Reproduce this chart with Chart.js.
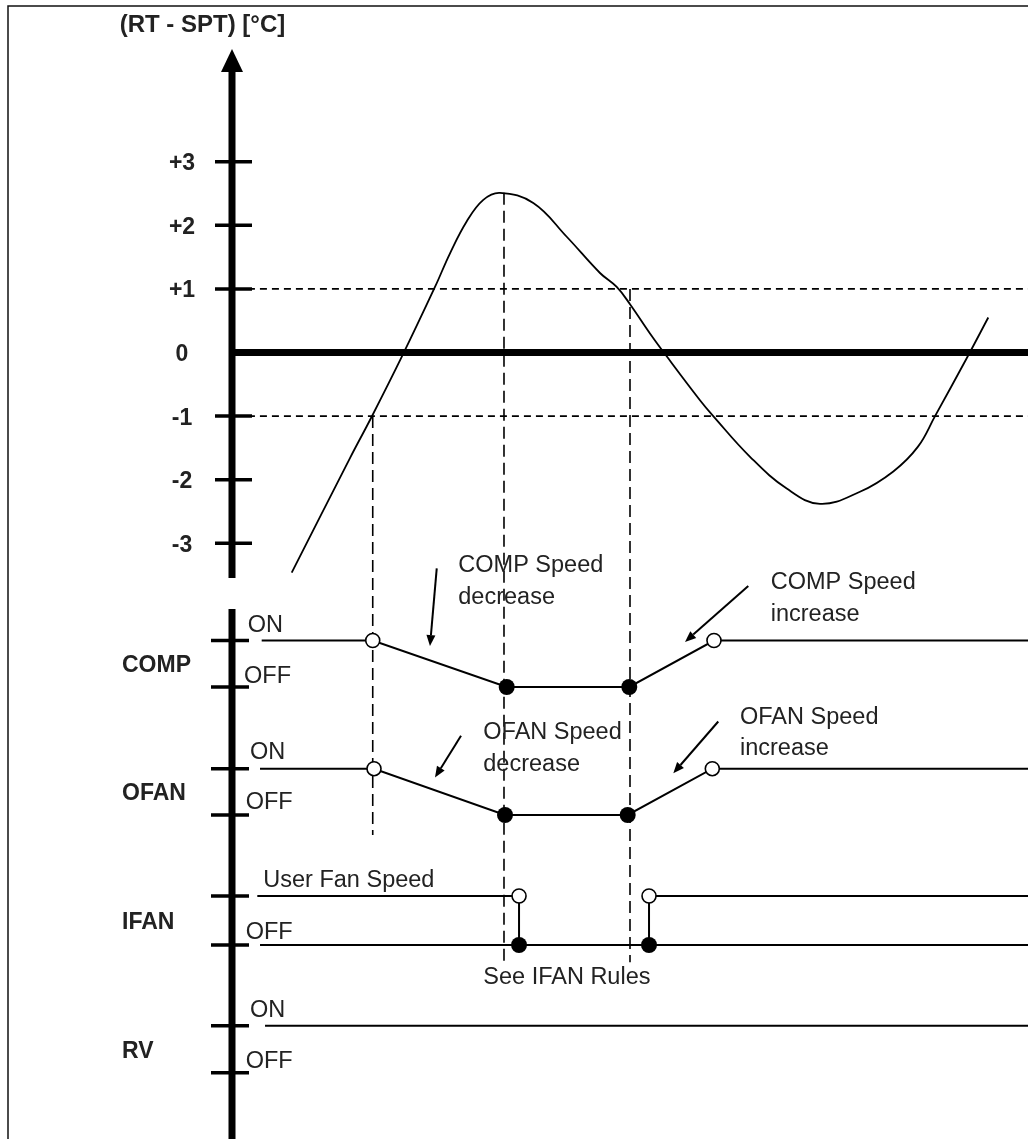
<!DOCTYPE html>
<html>
<head>
<meta charset="utf-8">
<title>RT - SPT control timing</title>
<script src="https://cdn.jsdelivr.net/npm/chart.js@4.4.1/dist/chart.umd.min.js"></script>
<style>
  html, body { margin: 0; padding: 0; background: #fff; }
  canvas { display: block; }
</style>
</head>
<body>
<canvas id="chart" width="1028" height="1139"></canvas>
<script>
// time runs 0..100 from the vertical axis to the right edge
const curveT    = [7.50, 14.82, 17.55, 21.32, 25.50, 27.39, 29.48, 31.57, 33.67, 37.85, 42.05, 46.23, 48.33, 50.00, 52.51, 54.61, 58.79, 60.46, 65.08, 69.69, 73.87, 78.89, 83.08, 86.18, 88.32, 92.30, 95.01];
const curveTemp = [-3.46, -1.66, -1.01, -0.07, 1.03, 1.56, 2.06, 2.40, 2.51, 2.35, 1.82, 1.25, 1.03, 0.76, 0.30, -0.06, -0.75, -1.00, -1.64, -2.14, -2.38, -2.19, -1.87, -1.48, -1.00, -0.09, 0.55];

const tempTicks = [3, 2, 1, 0, -1, -2, -3];
const tempTickLabels = ['+3', '+2', '+1', '0', '-1', '-2', '-3'];
const bandLevels = [1, -1];

const rowNames  = ['COMP', 'OFAN', 'IFAN', 'RV'];
const rowAxes   = ['yComp', 'yOfan', 'yIfan', 'yRv'];
const onLabels  = ['ON', 'ON', 'User Fan Speed', 'ON'];
const onLabelT  = [1.97, 2.26, 3.93, 2.26];
const onLabelV  = [1.19, 1.20, 1.19, 1.19];
const offLabels = ['OFF', 'OFF', 'OFF', 'OFF'];
const offLabelT = [1.51, 1.72, 1.72, 1.72];
const offLabelV = [0.08, 0.13, 0.12, 0.11];

// 1 = ON, 0 = OFF
const compT      = [3.73, 17.68, 34.51, 49.91, 60.55, 100];
const compState  = [1, 1, 0, 0, 1, 1];
const compOpen   = [17.68, 60.55];
const compFilled = [34.51, 49.91];

const ofanT      = [3.52, 17.84, 34.30, 49.71, 60.34, 100];
const ofanState  = [1, 1, 0, 0, 1, 1];
const ofanOpen   = [17.84, 60.34];
const ofanFilled = [34.30, 49.71];

const ifanOnT     = [3.18, 36.06, 52.39, 100]; // two ON segments
const ifanOffT    = [3.52, 100];
const ifanSwitchT = [36.06, 52.39];

const rvOnT = [4.15, 100];

const guideT = [17.68, 34.17, 50.00];

// annotations: text start (t, level) and arrow (from t, level -> to t, level)
const notes = [
  { axis: 'yComp', t: 28.43, v: 2.47, lines: ['COMP Speed', 'decrease'], arrow: [25.72, 2.55, 24.87, 0.88] },
  { axis: 'yOfan', t: 31.57, v: 1.64, lines: ['OFAN Speed', 'decrease'], arrow: [28.77, 1.71, 25.50, 0.81] },
  { axis: 'yComp', t: 67.68, v: 2.10, lines: ['COMP Speed', 'increase'], arrow: [64.86, 2.17, 56.91, 0.97] },
  { axis: 'yOfan', t: 63.82, v: 1.97, lines: ['OFAN Speed', 'increase'], arrow: [61.09, 2.02, 55.44, 0.90] },
  { axis: 'yIfan', t: 31.57, v: -0.80, lines: ['See IFAN Rules'] }
];

// layout
const W = 1028, H = 1139;
const AXIS_PX = 232;
const TEMP_ZERO_PX = 352.5, TEMP_PX_PER_DEG = 63.6;
const ROW_PX = [[640.5, 687], [768.7, 815], [896, 945], [1025.7, 1072.7]]; // ON, OFF
const FONT = '"Liberation Sans", Arial, sans-serif';
const INK = '#222';

const scales = {
  x: { type: 'linear', display: false, min: 0, max: 100 },
  y: { type: 'linear', display: false,
       min: -(H - TEMP_ZERO_PX) / TEMP_PX_PER_DEG, max: TEMP_ZERO_PX / TEMP_PX_PER_DEG }
};
rowAxes.forEach((id, i) => {
  const [on, off] = ROW_PX[i];
  const u = off - on;
  scales[id] = { type: 'linear', display: false, min: -(H - off) / u, max: 1 + on / u };
});

const pts = (ts, ys) => ts.map((t, i) => ({ x: t, y: Array.isArray(ys) ? ys[i] : ys }));
function line(data, yAxisID, extra) {
  return Object.assign({ data, yAxisID, borderColor: '#000', borderWidth: 2, pointRadius: 0,
    fill: false, tension: 0, order: 2, clip: false }, extra || {});
}
function openDots(ts, yAxisID) {
  return line(pts(ts, 1), yAxisID, { showLine: false, pointRadius: 7, pointBackgroundColor: '#fff',
    pointBorderColor: '#000', pointBorderWidth: 1.6, order: 0 });
}
function filledDots(ts, yAxisID) {
  return line(pts(ts, 0), yAxisID, { showLine: false, pointRadius: 8, pointBackgroundColor: '#000',
    pointBorderColor: '#000', pointBorderWidth: 0, order: 0 });
}

const datasets = [
  line(pts(curveT, curveTemp), 'y', { tension: 0.4, borderWidth: 1.8 }),
  line([{ x: 0, y: 0 }, { x: 100, y: 0 }], 'y', { borderWidth: 7 }),
  ...bandLevels.map(v => line([{ x: 2, y: v }, { x: 100, y: v }], 'y', { borderWidth: 1.6, borderDash: [7, 5] })),
  line(pts(compT, compState), 'yComp'),
  line(pts(ofanT, ofanState), 'yOfan'),
  line(pts(ifanOnT.slice(0, 2), 1), 'yIfan'),
  line(pts(ifanOnT.slice(2, 4), 1), 'yIfan'),
  line(pts(ifanOffT, 0), 'yIfan'),
  ...ifanSwitchT.map(t => line([{ x: t, y: 1 }, { x: t, y: 0 }], 'yIfan')),
  line(pts(rvOnT, 1), 'yRv'),
  openDots(compOpen, 'yComp'), filledDots(compFilled, 'yComp'),
  openDots(ofanOpen, 'yOfan'), filledDots(ofanFilled, 'yOfan'),
  openDots(ifanSwitchT, 'yIfan'), filledDots(ifanSwitchT, 'yIfan')
];

const guides = [
  { t: guideT[0], from: ['y', -1],   to: ['yOfan', -0.43] },
  { t: guideT[1], from: ['y', 2.51], to: ['yIfan', -0.44] },
  { t: guideT[2], from: ['y', 1],    to: ['yIfan', -0.35] }
];

function arrow(ctx, x0, y0, x1, y1) {
  const a = Math.atan2(y1 - y0, x1 - x0), len = 11, hw = 4.5;
  const bx = x1 - len * Math.cos(a), by = y1 - len * Math.sin(a);
  ctx.beginPath(); ctx.moveTo(x0, y0); ctx.lineTo(bx, by); ctx.stroke();
  ctx.beginPath();
  ctx.moveTo(x1, y1);
  ctx.lineTo(bx + hw * Math.sin(a), by - hw * Math.cos(a));
  ctx.lineTo(bx - hw * Math.sin(a), by + hw * Math.cos(a));
  ctx.closePath(); ctx.fill();
}

const decor = {
  id: 'decor',
  beforeDraw(chart) {
    const ctx = chart.ctx;
    ctx.save();
    ctx.fillStyle = '#fff';
    ctx.fillRect(0, 0, W, H);
    ctx.strokeStyle = '#111';
    ctx.lineWidth = 1.5;
    ctx.beginPath(); ctx.moveTo(8, H); ctx.lineTo(8, 6); ctx.lineTo(W, 6); ctx.stroke();
    ctx.restore();
  },
  beforeDatasetsDraw(chart) {
    const ctx = chart.ctx, x = chart.scales.x;
    ctx.save();
    ctx.strokeStyle = '#000';
    ctx.lineWidth = 1.6;
    ctx.setLineDash([12, 6]);
    guides.forEach(g => {
      const px = x.getPixelForValue(g.t);
      ctx.beginPath();
      ctx.moveTo(px, chart.scales[g.from[0]].getPixelForValue(g.from[1]));
      ctx.lineTo(px, chart.scales[g.to[0]].getPixelForValue(g.to[1]));
      ctx.stroke();
    });
    ctx.restore();
  },
  afterDatasetsDraw(chart) {
    const ctx = chart.ctx, x = chart.scales.x, yT = chart.scales.y;
    const ax = x.getPixelForValue(0);
    ctx.save();
    ctx.fillStyle = '#000';
    ctx.strokeStyle = '#000';

    // vertical axis: upper part with arrow, lower part for the signal rows
    ctx.lineWidth = 7;
    ctx.beginPath();
    ctx.moveTo(ax, yT.getPixelForValue(-3.546));
    ctx.lineTo(ax, yT.getPixelForValue(4.45));
    ctx.stroke();
    ctx.beginPath();
    ctx.moveTo(ax, yT.getPixelForValue(4.772));
    ctx.lineTo(ax - 11, yT.getPixelForValue(4.41));
    ctx.lineTo(ax + 11, yT.getPixelForValue(4.41));
    ctx.closePath(); ctx.fill();
    ctx.beginPath();
    ctx.moveTo(ax, chart.scales.yComp.getPixelForValue(1.677));
    ctx.lineTo(ax, H);
    ctx.stroke();

    // tick marks
    ctx.lineWidth = 3.5;
    tempTicks.forEach(v => {
      if (v === 0) return;
      const py = yT.getPixelForValue(v);
      ctx.beginPath(); ctx.moveTo(ax - 17, py); ctx.lineTo(ax + 20, py); ctx.stroke();
    });
    rowAxes.forEach(id => {
      [1, 0].forEach(v => {
        const py = chart.scales[id].getPixelForValue(v);
        ctx.beginPath(); ctx.moveTo(ax - 21, py); ctx.lineTo(ax + 17, py); ctx.stroke();
      });
    });

    // title
    ctx.fillStyle = INK;
    ctx.font = 'bold 24px ' + FONT;
    ctx.textAlign = 'center';
    ctx.textBaseline = 'alphabetic';
    ctx.fillText('(RT - SPT) [\u00B0C]', 202.5, 32);

    // tick labels
    ctx.font = 'bold 23px ' + FONT;
    tempTicks.forEach((v, i) => {
      ctx.fillText(tempTickLabels[i], ax - 50, yT.getPixelForValue(v) + 8.5);
    });

    // row names
    ctx.textAlign = 'left';
    rowAxes.forEach((id, i) => {
      const s = chart.scales[id];
      const py = (s.getPixelForValue(1) + s.getPixelForValue(0)) / 2 + 8.5;
      ctx.fillText(rowNames[i], ax - 110, py);
    });

    // ON / OFF labels
    ctx.font = '23.5px ' + FONT;
    rowAxes.forEach((id, i) => {
      const s = chart.scales[id];
      ctx.fillText(onLabels[i], x.getPixelForValue(onLabelT[i]), s.getPixelForValue(onLabelV[i]));
      ctx.fillText(offLabels[i], x.getPixelForValue(offLabelT[i]), s.getPixelForValue(offLabelV[i]));
    });

    // annotations with arrows
    notes.forEach(n => {
      const s = chart.scales[n.axis];
      const px = x.getPixelForValue(n.t), py = s.getPixelForValue(n.v);
      ctx.fillStyle = INK;
      n.lines.forEach((txt, k) => ctx.fillText(txt, px, py + k * 31.5));
      if (n.arrow) {
        const [t0, v0, t1, v1] = n.arrow;
        ctx.fillStyle = '#000';
        ctx.lineWidth = 2;
        arrow(ctx, x.getPixelForValue(t0), s.getPixelForValue(v0), x.getPixelForValue(t1), s.getPixelForValue(v1));
      }
    });
    ctx.restore();
  }
};

new Chart(document.getElementById('chart'), {
  type: 'line',
  data: { datasets },
  options: {
    responsive: false,
    animation: false,
    devicePixelRatio: 1,
    layout: { autoPadding: false, padding: { left: AXIS_PX, right: 0, top: 0, bottom: 0 } },
    plugins: { legend: { display: false }, tooltip: { enabled: false } },
    scales
  },
  plugins: [decor]
});
</script>
</body>
</html>
